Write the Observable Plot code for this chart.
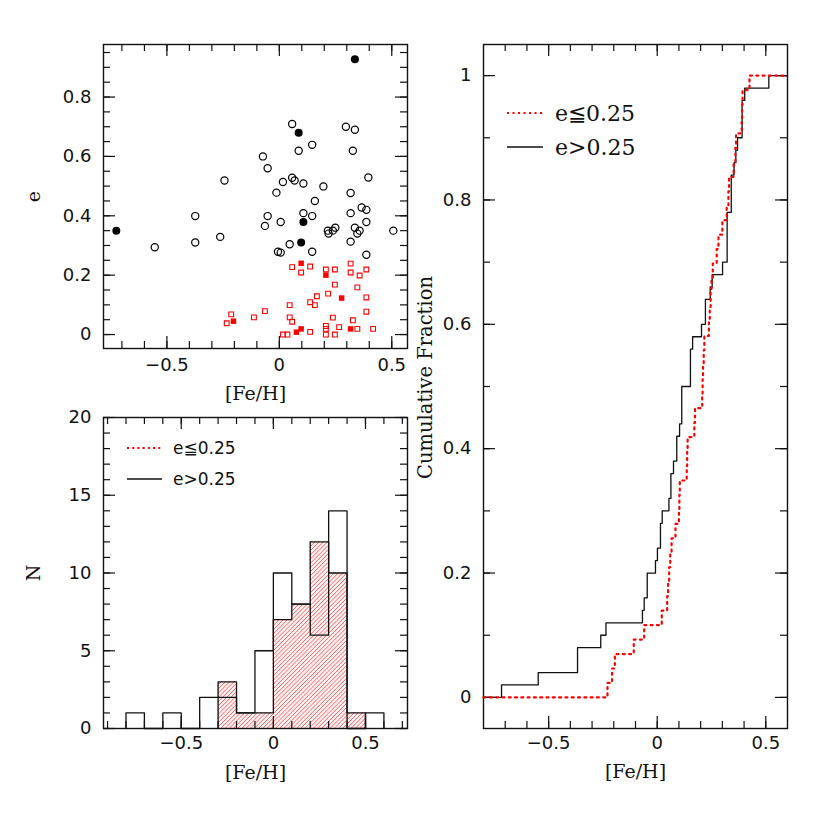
<!DOCTYPE html>
<html><head><meta charset="utf-8">
<script src="https://cdn.jsdelivr.net/npm/d3@7"></script>
<script src="https://cdn.jsdelivr.net/npm/@observablehq/plot@0.6"></script>
<style>
html,body{margin:0;padding:0;background:#fff;}
#chart{position:relative;width:830px;height:830px;background:#fff;}
#chart svg{position:absolute;left:0;top:0;}
</style></head>
<body><div id="chart"></div>
<script>
// ---------- DATA ----------
// Scatter: e > 0.25 (black circles)
const openCircleFeh = [0.057,0.296,0.336,0.086,0.146,0.327,-0.073,-0.052,-0.244,0.016,0.057,0.068,0.107,0.196,0.396,-0.013,0.317,0.158,0.366,0.387,-0.374,-0.052,0.107,0.146,0.317,0.006,-0.064,0.387,0.216,0.219,0.238,0.249,0.336,0.357,0.347,0.507,-0.554,-0.374,-0.263,0.046,-0.006,0.006,0.146,0.317,0.387];
const openCircleE   = [0.709,0.700,0.690,0.619,0.639,0.619,0.600,0.560,0.519,0.514,0.528,0.519,0.509,0.499,0.529,0.478,0.477,0.450,0.428,0.420,0.399,0.399,0.409,0.399,0.409,0.379,0.366,0.379,0.350,0.340,0.350,0.360,0.360,0.350,0.340,0.350,0.294,0.310,0.329,0.304,0.279,0.276,0.279,0.313,0.269];
const filledCircleFeh = [0.336,0.086,0.107,0.097,-0.725];
const filledCircleE   = [0.927,0.680,0.379,0.310,0.350];
// Scatter: e <= 0.25 (red squares)
const openSquareFeh = [0.057,0.137,0.097,0.207,0.247,0.317,0.317,0.387,0.357,0.247,0.347,0.217,0.167,0.137,0.158,0.046,0.387,0.387,-0.064,-0.113,-0.214,-0.234,0.046,0.057,0.238,0.327,0.207,0.207,0.207,0.266,0.247,0.137,0.016,0.036,0.347,0.417];
const openSquareE   = [0.227,0.229,0.209,0.219,0.219,0.239,0.209,0.219,0.199,0.168,0.159,0.138,0.129,0.109,0.099,0.099,0.125,0.077,0.079,0.058,0.068,0.038,0.058,0.043,0.057,0.048,0.029,0.019,0.000,0.025,0.000,0.009,0.000,0.000,0.019,0.019];
const filledSquareFeh = [0.097,0.207,0.277,-0.204,0.097,0.076,0.317];
const filledSquareE   = [0.240,0.200,0.123,0.045,0.019,0.008,0.019];

// Histogram (bin width 0.1)
const binStart  = [-0.8,-0.7,-0.6,-0.5,-0.4,-0.3,-0.2,-0.1,0.0,0.1,0.2,0.3,0.4,0.5];
const countHigh = [1,0,1,0,2,2,1,5,10,8,6,14,0,1];   // e>0.25
const countLow  = [0,0,0,0,0,3,1,1,7,8,12,10,1,0];   // e<=0.25
const binWidth = 0.1;

// Cumulative distributions: sorted [Fe/H] values
const cdfHighFeh = [-0.717,-0.548,-0.367,-0.367,-0.260,-0.236,-0.068,-0.060,-0.046,-0.046,-0.008,0.001,0.015,0.015,0.023,0.054,0.063,0.063,0.075,0.090,0.090,0.103,0.113,0.113,0.113,0.153,0.153,0.153,0.163,0.204,0.222,0.222,0.244,0.253,0.301,0.322,0.322,0.322,0.322,0.341,0.341,0.341,0.354,0.362,0.370,0.391,0.391,0.391,0.403,0.514];
const cdfLowFeh  = [-0.229,-0.208,-0.195,-0.108,-0.060,0.021,0.046,0.050,0.055,0.060,0.066,0.084,0.100,0.102,0.104,0.136,0.138,0.140,0.171,0.174,0.207,0.209,0.211,0.214,0.217,0.238,0.242,0.246,0.250,0.256,0.274,0.282,0.300,0.320,0.328,0.331,0.352,0.360,0.363,0.389,0.391,0.393,0.425];

const legendLabels = ["e\u22660.25", "e>0.25"];
const xTitle = "[Fe/H]";

// ---------- HELPERS ----------
const W = 830, H = 830;
const TICK_FONT = "'DejaVu Sans', sans-serif";
const TITLE_FONT = "'DejaVu Serif', serif";
const INK = "#111";
const HATCH = "#ff5a5a";

function fmt(d) {
  if (Math.abs(d) < 1e-9) return "0";
  return (d < 0 ? "\u2212" : "") + String(+Math.abs(d).toFixed(2));
}
function steps(a, b, step) {
  const out = []; const n = Math.round((b - a) / step);
  for (let i = 0; i <= n; i++) out.push(+(a + i * step).toFixed(4));
  return out;
}
function pairs(xs, ys) { return xs.map((x, i) => ({feh: x, e: ys[i]})); }

function frameTicks(box, xMajor, xMinor, yMajor, yMinor) {
  const iw = box.right - box.left, ih = box.bottom - box.top;
  const L = 12, S = 7;
  const o = {stroke: INK, strokeWidth: 1.2};
  return [
    Plot.tickX(xMinor, {x: d => d, insetBottom: ih - S, ...o}),
    Plot.tickX(xMinor, {x: d => d, insetTop: ih - S, ...o}),
    Plot.tickX(xMajor, {x: d => d, insetBottom: ih - L, ...o}),
    Plot.tickX(xMajor, {x: d => d, insetTop: ih - L, ...o}),
    Plot.tickY(yMinor, {y: d => d, insetRight: iw - S, ...o}),
    Plot.tickY(yMinor, {y: d => d, insetLeft: iw - S, ...o}),
    Plot.tickY(yMajor, {y: d => d, insetRight: iw - L, ...o}),
    Plot.tickY(yMajor, {y: d => d, insetLeft: iw - L, ...o}),
    Plot.frame({stroke: INK, strokeWidth: 1.4})
  ];
}
function axes(xMajor, yMajor, padX) {
  return [
    Plot.axisX(xMajor, {tickSize: 0, tickPadding: padX, tickFormat: fmt, label: null, fontSize: 18, fontFamily: TICK_FONT}),
    Plot.axisY(yMajor, {tickSize: 0, tickPadding: 12, tickFormat: fmt, label: null, fontSize: 18, fontFamily: TICK_FONT})
  ];
}
function baseOpts(box) {
  return {
    width: W, height: H,
    marginLeft: box.left, marginRight: W - box.right,
    marginTop: box.top, marginBottom: H - box.bottom,
    style: {background: "transparent", fontFamily: TICK_FONT, fontSize: "18px", color: INK, overflow: "visible"}
  };
}
function title(txt, opts) {
  return Plot.text([txt], {text: d => d, fontFamily: TITLE_FONT, fontSize: 19, fill: INK,
    textAnchor: "middle", lineAnchor: "middle", ...opts});
}
function addLegend(svg, x0, x1, xt, rows, fontFamily, fontSize) {
  const g = d3.select(svg).append("g").attr("text-anchor", "start");
  rows.forEach(r => {
    g.append("line").attr("x1", x0).attr("x2", x1).attr("y1", r.y).attr("y2", r.y)
      .style("stroke", r.color).style("stroke-width", r.dash ? 2 : 1.3)
      .style("stroke-dasharray", r.dash || "none");
    g.append("text").attr("x", xt).attr("y", r.y).attr("dy", "0.35em")
      .style("text-anchor", "start")
      .style("font-family", fontFamily).style("font-size", fontSize + "px").style("fill", INK)
      .text(r.label);
  });
}

const chart = document.getElementById("chart");

// ---------- SCATTER (top left) ----------
const scBox = {left: 103, right: 407, top: 44, bottom: 348};
const scatter = Plot.plot({
  ...baseOpts(scBox),
  x: {domain: [-0.782, 0.57], label: null},
  y: {domain: [-0.047, 0.977], label: null},
  marks: [
    ...frameTicks(scBox, [-0.5, 0, 0.5], steps(-0.7, 0.5, 0.1), [0, 0.2, 0.4, 0.6, 0.8], steps(0, 0.95, 0.05)),
    ...axes([-0.5, 0, 0.5], [0, 0.2, 0.4, 0.6, 0.8], 10),
    Plot.dot(pairs(openSquareFeh, openSquareE), {x: "feh", y: "e", symbol: "square", r: 2.7, stroke: "red", fill: "none", strokeWidth: 1.1}),
    Plot.dot(pairs(filledSquareFeh, filledSquareE), {x: "feh", y: "e", symbol: "square", r: 3.1, fill: "red", stroke: "none"}),
    Plot.dot(pairs(openCircleFeh, openCircleE), {x: "feh", y: "e", r: 3.6, stroke: "#000", fill: "none", strokeWidth: 1.2}),
    Plot.dot(pairs(filledCircleFeh, filledCircleE), {x: "feh", y: "e", r: 4.0, fill: "#000", stroke: "none"}),
    title("e", {frameAnchor: "left", dx: -70, rotate: -90}),
    title(xTitle, {frameAnchor: "bottom", dy: 45})
  ]
});
chart.appendChild(scatter);

// ---------- HISTOGRAM (bottom left) ----------
const hiBox = {left: 103, right: 407, top: 417, bottom: 728};
function stepOutline(counts) {
  let a = counts.findIndex(c => c > 0), b = counts.length - 1;
  while (b > 0 && counts[b] === 0) b--;
  const pts = [{x: binStart[a], y: 0}];
  for (let i = a; i <= b; i++) pts.push({x: binStart[i], y: counts[i]});
  pts.push({x: binStart[b] + binWidth, y: 0});
  return pts;
}
const lowBins = binStart.map((s, i) => ({x1: s, x2: s + binWidth, n: countLow[i]})).filter(d => d.n > 0);
const hist = Plot.plot({
  ...baseOpts(hiBox),
  x: {domain: [-0.922, 0.728], label: null},
  y: {domain: [0, 20], label: null},
  marks: [
    Plot.rect(lowBins, {x1: "x1", x2: "x2", y1: d => 0, y2: "n", fill: "#fff2f2", stroke: "none"}),
    Plot.line(stepOutline(countLow), {x: "x", y: "y", curve: "step-after", stroke: INK, strokeWidth: 1.3}),
    Plot.line(stepOutline(countHigh), {x: "x", y: "y", curve: "step-after", stroke: INK, strokeWidth: 1.3}),
    ...frameTicks(hiBox, [-0.5, 0, 0.5], steps(-0.9, 0.7, 0.1), [0, 5, 10, 15, 20], steps(0, 20, 1)),
    ...axes([-0.5, 0, 0.5], [0, 5, 10, 15, 20], 8),
    title("N", {frameAnchor: "left", dx: -70, rotate: -90}),
    title(xTitle, {frameAnchor: "bottom", dy: 44})
  ]
});
// red hatching of the e<=0.25 bars, placed with the plot's own scales
{
  const sx = hist.scale("x"), sy = hist.scale("y");
  const g = d3.select(hist).insert("g", "g[aria-label='line']");
  const step = 4.2;
  lowBins.forEach(b => {
    const x1 = sx.apply(b.x1), x2 = sx.apply(b.x2), yt = sy.apply(b.n), yb = sy.apply(0);
    const cMin = Math.ceil((x1 + yt) / step) * step, cMax = x2 + yb;
    for (let c = cMin; c <= cMax; c += step) {
      const lo = Math.max(x1, c - yb), hi = Math.min(x2, c - yt);
      if (hi > lo) g.append("line")
        .attr("x1", lo).attr("y1", c - lo).attr("x2", hi).attr("y2", c - hi)
        .style("stroke", HATCH).style("stroke-width", "0.95px");
    }
  });
}
addLegend(hist, 127, 162, 173, [
  {y: 448, color: "red", dash: "2,3.2", label: legendLabels[0]},
  {y: 479, color: INK, dash: null, label: legendLabels[1]}
], TICK_FONT, 17);
chart.appendChild(hist);

// ---------- CDF (right) ----------
const cdBox = {left: 483, right: 787, top: 44, bottom: 728};
const xDomC = [-0.8, 0.6];
function ecdf(vals) {
  const n = vals.length;
  const pts = [{x: xDomC[0], y: 0}];
  vals.forEach((v, i) => pts.push({x: v, y: (i + 1) / n}));
  pts.push({x: xDomC[1], y: 1});
  return pts;
}
const cdf = Plot.plot({
  ...baseOpts(cdBox),
  x: {domain: xDomC, label: null},
  y: {domain: [-0.05, 1.05], label: null},
  marks: [
    ...frameTicks(cdBox, [-0.5, 0, 0.5], steps(-0.7, 0.5, 0.1), [0, 0.2, 0.4, 0.6, 0.8, 1], steps(0, 1, 0.1)),
    ...axes([-0.5, 0, 0.5], [0, 0.2, 0.4, 0.6, 0.8, 1], 8),
    Plot.line(ecdf(cdfHighFeh), {x: "x", y: "y", curve: "step-after", stroke: INK, strokeWidth: 1.3}),
    Plot.line(ecdf(cdfLowFeh), {x: "x", y: "y", curve: "step-after", stroke: "red", strokeWidth: 2.2, strokeDasharray: "2,4.3"}),
    title("Cumulative Fraction", {frameAnchor: "left", dx: -58, dy: -9, rotate: -90, fontSize: 19.5}),
    title(xTitle, {frameAnchor: "bottom", dy: 43})
  ]
});
addLegend(cdf, 507, 543, 555, [
  {y: 113, color: "red", dash: "2,3.5", label: legendLabels[0]},
  {y: 147, color: INK, dash: null, label: legendLabels[1]}
], TITLE_FONT, 22);
chart.appendChild(cdf);
</script>
</body></html>
